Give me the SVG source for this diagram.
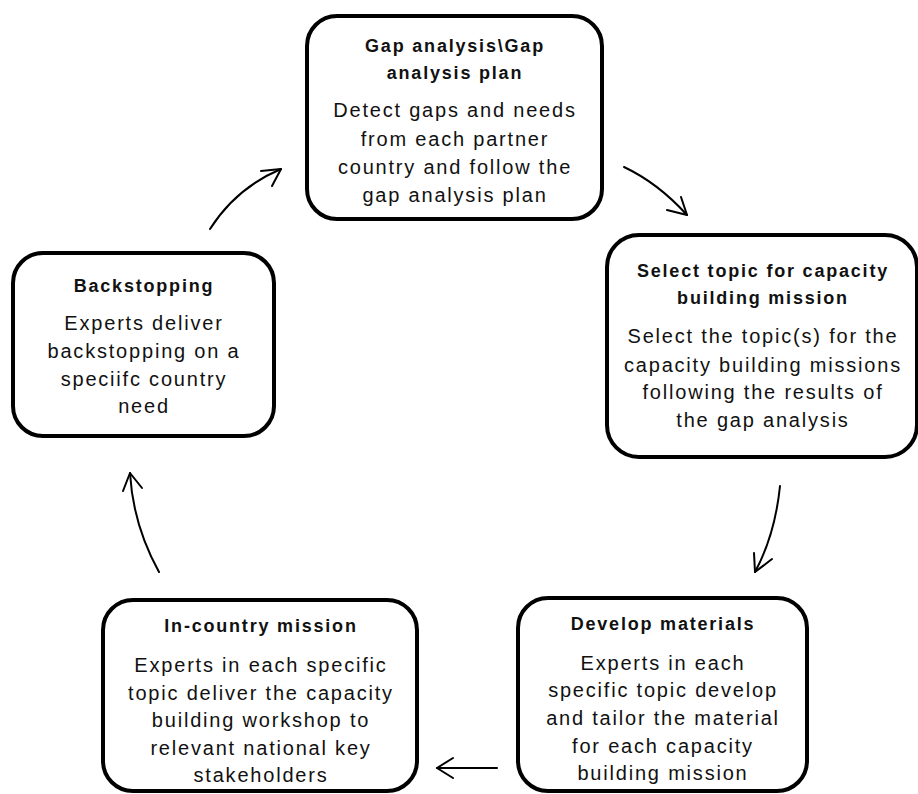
<svg xmlns="http://www.w3.org/2000/svg" width="918" height="794" viewBox="0 0 918 794">
<style>
.box{fill:#fff;stroke:#000;stroke-width:4}
.t{font-family:"Liberation Sans","DejaVu Sans",Arial,sans-serif;font-size:18px;font-weight:bold;letter-spacing:1.8px;text-anchor:middle;fill:#111}
.b{font-family:"Liberation Sans","DejaVu Sans",Arial,sans-serif;font-size:20px;letter-spacing:1.8px;text-anchor:middle;fill:#111}
.c{fill:none;stroke:#000;stroke-width:2;stroke-linecap:round;stroke-linejoin:round}
</style>
<rect width="918" height="794" fill="#fff"/>
<g id="gap">
<rect class="box" x="307" y="16" width="295" height="203" rx="30"/>
<text class="t" x="455" y="52">Gap analysis\Gap</text>
<text class="t" x="455" y="79">analysis plan</text>
<text class="b" x="455" y="117">Detect gaps and needs</text>
<text class="b" x="455" y="145.5">from each partner</text>
<text class="b" x="455" y="174">country and follow the</text>
<text class="b" x="455" y="202">gap analysis plan</text>
</g>
<g id="select">
<rect class="box" x="607" y="235" width="310" height="222" rx="32"/>
<text class="t" x="763" y="277">Select topic for capacity</text>
<text class="t" x="763" y="304">building mission</text>
<text class="b" x="763" y="343">Select the topic(s) for the</text>
<text class="b" x="763" y="371.5">capacity building missions</text>
<text class="b" x="763" y="399">following the results of</text>
<text class="b" x="763" y="427">the gap analysis</text>
</g>
<g id="backstop">
<rect class="box" x="13" y="253" width="261" height="183" rx="30"/>
<text class="t" x="144" y="292">Backstopping</text>
<text class="b" x="144" y="330">Experts deliver</text>
<text class="b" x="144" y="358">backstopping on a</text>
<text class="b" x="144" y="386">speciifc country</text>
<text class="b" x="144" y="413">need</text>
</g>
<g id="incountry">
<rect class="box" x="103" y="600" width="314" height="191" rx="30"/>
<text class="t" x="261" y="632">In-country mission</text>
<text class="b" x="261" y="672">Experts in each specific</text>
<text class="b" x="261" y="700">topic deliver the capacity</text>
<text class="b" x="261" y="727">building workshop to</text>
<text class="b" x="261" y="755">relevant national key</text>
<text class="b" x="261" y="782">stakeholders</text>
</g>
<g id="develop">
<rect class="box" x="518" y="598" width="289" height="193" rx="30"/>
<text class="t" x="663" y="630">Develop materials</text>
<text class="b" x="663" y="670">Experts in each</text>
<text class="b" x="663" y="697">specific topic develop</text>
<text class="b" x="663" y="725">and tailor the material</text>
<text class="b" x="663" y="753">for each capacity</text>
<text class="b" x="663" y="780">building mission</text>
</g>
<g id="connectors">
<path class="c" d="M210,229 Q236,188 281,169"/>
<path class="c" d="M261,171 L281,169 L272,186"/>
<path class="c" d="M624,167 Q658,183 687,215"/>
<path class="c" d="M667,210 L687,215 L681,197"/>
<path class="c" d="M780,486 Q775,535 755,572"/>
<path class="c" d="M754,553 L755,572 L772,559"/>
<path class="c" d="M497,768 L437,768"/>
<path class="c" d="M453,758 L437,768 L453,778"/>
<path class="c" d="M159,572 Q133,525 130,473"/>
<path class="c" d="M123,491 L130,473 L142,488"/>
</g>
</svg>
